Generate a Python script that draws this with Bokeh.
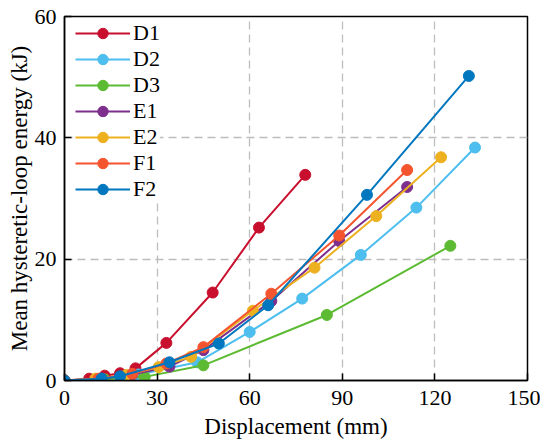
from bokeh.plotting import figure
from bokeh.models import Range1d, FixedTicker, Legend, LegendItem
from bokeh.embed import file_html
from bokeh.resources import INLINE

# ---- data ----
series_names = ["D1", "D2", "D3", "E1", "E2", "F1", "F2"]
colors = ["#C8102E", "#4DBEEE", "#5DBB33", "#7E2F8E", "#EDB120", "#F4552E", "#0077BE"]

d1_x = [0, 8, 13, 18, 23, 33, 48, 63, 78]
d1_y = [0, 0.3, 0.8, 1.2, 2.0, 6.2, 14.5, 25.2, 33.9]
d2_x = [0, 12, 24, 43, 60, 77, 96, 114, 133]
d2_y = [0, 0.3, 1.0, 3.0, 8.0, 13.5, 20.7, 28.5, 38.4]
d3_x = [0, 13, 26, 45, 85, 125]
d3_y = [0, 0.2, 0.6, 2.5, 10.8, 22.2]
e1_x = [0, 12, 22, 34, 45, 67, 89, 111]
e1_y = [0, 0.3, 1.0, 2.3, 5.0, 13.1, 23.0, 31.9]
e2_x = [0, 10, 20, 30.5, 41, 61, 81, 101, 122]
e2_y = [0, 0.3, 0.9, 2.2, 3.9, 11.5, 18.6, 27.1, 36.8]
f1_x = [0, 11, 22, 33, 45, 67, 89, 111]
f1_y = [0, 0.3, 1.1, 2.8, 5.5, 14.3, 23.9, 34.7]
f2_x = [0, 12, 18, 34, 50, 66, 98, 131]
f2_y = [0, 0.3, 0.7, 3.0, 6.1, 12.4, 30.6, 50.2]

x_ticks = [0, 30, 60, 90, 120, 150]
y_ticks = [0, 20, 40, 60]

series = [(d1_x, d1_y), (d2_x, d2_y), (d3_x, d3_y), (e1_x, e1_y),
          (e2_x, e2_y), (f1_x, f1_y), (f2_x, f2_y)]

FONT = "Liberation Serif"

p = figure(width=540, height=441, output_backend="svg", toolbar_location=None,
           x_range=Range1d(0, 150), y_range=Range1d(0, 60),
           min_border_left=64, min_border_right=13, min_border_top=16, min_border_bottom=61)

p.outline_line_color = "black"
p.outline_line_width = 1.5

for ax, ticks in ((p.xaxis, x_ticks), (p.yaxis, y_ticks)):
    ax.ticker = FixedTicker(ticks=ticks)
    ax.minor_tick_line_color = None
    ax.major_tick_in = 7
    ax.major_tick_out = 0
    ax.major_tick_line_width = 1.5
    ax.axis_line_width = 1.5
    ax.axis_line_color = "black"
    ax.major_tick_line_color = "black"
    ax.major_label_text_font = FONT
    ax.major_label_text_font_size = "22px"
    ax.major_label_text_color = "black"
    ax.axis_label_text_font = FONT
    ax.axis_label_text_font_size = "23px"
    ax.axis_label_text_font_style = "normal"
    ax.axis_label_text_color = "black"

p.xaxis.axis_label = "Displacement (mm)"
p.yaxis.axis_label = "Mean hysteretic-loop energy (kJ)"
p.xaxis.major_label_standoff = 10
p.xaxis.axis_label_standoff = 6
p.yaxis.major_label_standoff = 8
p.yaxis.axis_label_standoff = 0

for g in (p.xgrid, p.ygrid):
    g.grid_line_color = "#BDBDBD"
    g.grid_line_dash = "8 5"
    g.grid_line_width = 1.3
p.xgrid.ticker = FixedTicker(ticks=x_ticks[1:-1])
p.ygrid.ticker = FixedTicker(ticks=y_ticks[1:-1])

items = []
for name, c, (xs, ys) in zip(series_names, colors, series):
    r1 = p.line(xs, ys, line_color=c, line_width=2)
    r2 = p.scatter(xs, ys, size=11, fill_color=c, line_color=c)
    items.append(LegendItem(label=name, renderers=[r1, r2]))

legend = Legend(items=items, location=(11, 178), padding=0, margin=0,
                spacing=0, glyph_height=26, glyph_width=55, label_height=26,
                label_standoff=3, label_text_font=FONT, label_text_font_size="22px",
                label_text_color="black", border_line_color=None,
                background_fill_color="white", background_fill_alpha=1.0)
p.add_layout(legend, "center")

open("out.html", "w").write(file_html(p, INLINE))
